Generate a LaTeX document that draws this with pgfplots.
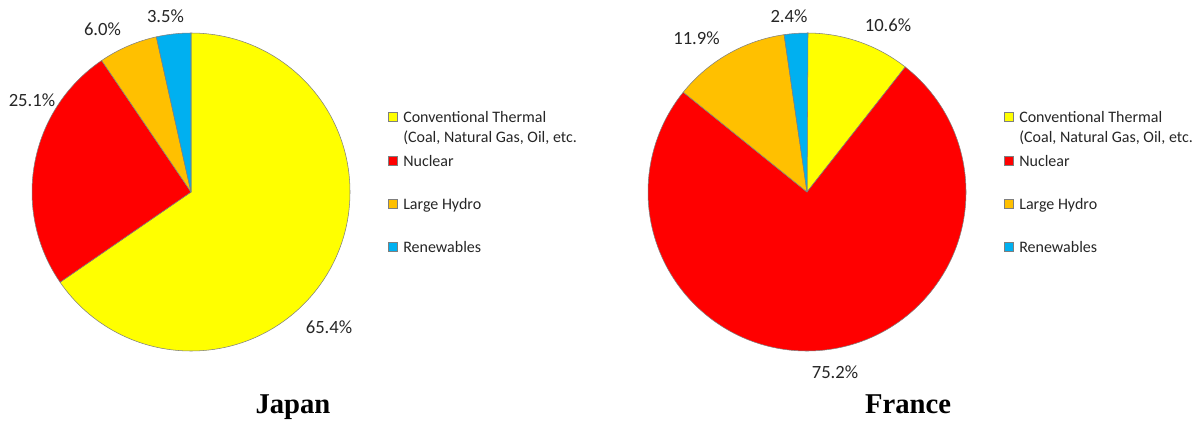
\documentclass[border=0pt]{standalone}
\usepackage{pgfplots}
\pgfplotsset{compat=1.18}
\usepackage{pgfplotstable}
\usepackage{fontspec}
\setmainfont{Carlito}
\newfontfamily\titlefont{Liberation Serif}

\definecolor{pyellow}{HTML}{FFFF00}
\definecolor{pred}{HTML}{FF0000}
\definecolor{porange}{HTML}{FFC000}
\definecolor{pblue}{HTML}{00B0F0}
\definecolor{edge}{HTML}{7F7F7F}
\definecolor{txt}{HTML}{262626}

% shares in percent, clockwise from 12 o'clock
\pgfplotstableread{
share color
65.4  pyellow
25.1  pred
6.0   porange
3.5   pblue
}\japan

\pgfplotstableread{
share color
10.6  pyellow
75.2  pred
11.9  porange
2.4   pblue
}\france

\def\R{119.25pt}

% one wedge per table row, drawn round axis cs:0,0
\newcommand\pieslices[1]{%
  \def\cum{0}%
  \pgfplotstablegetrowsof{#1}%
  \pgfmathtruncatemacro\lastrow{\pgfplotsretval-1}%
  \pgfplotsforeachungrouped \i in {0,...,\lastrow}{%
    \pgfplotstablegetelem{\i}{share}\of{#1}\let\val\pgfplotsretval
    \pgfplotstablegetelem{\i}{color}\of{#1}\let\col\pgfplotsretval
    \pgfmathsetmacro\aone{90-3.6*\cum}%
    \pgfmathsetmacro\atwo{90-3.6*(\cum+\val)}%
    \pgfmathsetmacro\cum{\cum+\val}%
    \edef\slice{\noexpand\filldraw[fill=\col, draw=edge, line width=0.4pt, line join=round]
      (axis cs:0,0) -- ++(\aone:\R) arc[start angle=\aone, end angle=\atwo, radius=\R] -- cycle;}%
    \slice
  }%
}

\pgfplotsset{
  pie/.style={
    hide axis, clip=false, anchor=center,
    x=\R, y=\R,
    xmin=-1, xmax=1, ymin=-1, ymax=1,
  },
}

\tikzset{
  pct/.style={font=\fontsize{14}{16}\selectfont, text=txt, inner sep=0pt},
  leg/.style={font=\fontsize{12}{14}\selectfont, text=txt, anchor=base west, inner sep=0pt},
  box/.style={draw=edge, line width=0.4pt, minimum size=6.75pt, inner sep=0pt},
  ttl/.style={font=\titlefont\bfseries\fontsize{21.5}{24}\selectfont, inner sep=0pt},
}

\begin{document}
\begin{tikzpicture}[x=0.75pt, y=-0.75pt]
  \useasboundingbox (0,0) rectangle (1198,421);
  \coordinate (jp) at (191,192);
  \coordinate (fr) at (807,192);

  \begin{axis}[pie, at={(jp)}]
    \pieslices{\japan}
  \end{axis}
  \begin{axis}[pie, at={(fr)}]
    \pieslices{\france}
  \end{axis}

  % data labels
  \node[pct] at (329,327) {65.4\%};
  \node[pct] at (32,100) {25.1\%};
  \node[pct] at (102.5,29) {6.0\%};
  \node[pct] at (165.5,16) {3.5\%};

  \node[pct] at (888,25) {10.6\%};
  \node[pct] at (835,372) {75.2\%};
  \node[pct] at (696.5,38) {11.9\%};
  \node[pct] at (789,16) {2.4\%};

  % legends
  \foreach \dx in {0,616}{
    \node[box, fill=pyellow] at (392.5+\dx,117) {};
    \node[leg] at (403+\dx,122) {Conventional Thermal};
    \node[leg] at (403+\dx,142) {(Coal, Natural Gas, Oil, etc.};
    \node[box, fill=pred] at (392.5+\dx,161) {};
    \node[leg] at (403+\dx,166) {Nuclear};
    \node[box, fill=porange] at (392.5+\dx,204) {};
    \node[leg] at (403+\dx,209) {Large Hydro};
    \node[box, fill=pblue] at (392.5+\dx,247) {};
    \node[leg] at (403+\dx,252) {Renewables};
  }

  % titles
  \node[ttl, anchor=base] at (293,413) {Japan};
  \node[ttl, anchor=base] at (908,413) {France};
\end{tikzpicture}
\end{document}
